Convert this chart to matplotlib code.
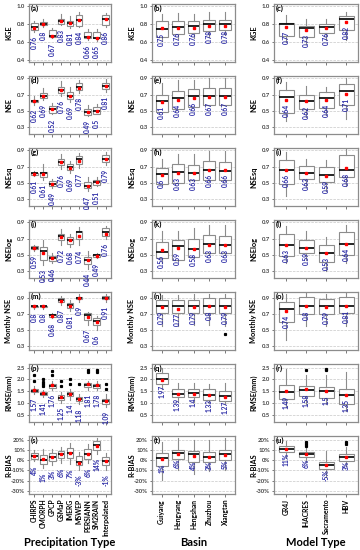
import matplotlib
matplotlib.use('Agg')
import matplotlib.pyplot as plt
from matplotlib.ticker import FuncFormatter

plt.rcParams['font.family'] = ['Lato', 'DejaVu Sans']
plt.rcParams['font.weight'] = 'bold'

precip_types = ['CHIRPS', 'CMORPH', 'GPCP', 'GSMaP', 'IMERG', 'MSWEP', 'PERSIANN', 'SM2RAIN', 'Interpolated']
basins = ['Guiyang', 'Hengyang', 'Hengshan', 'Zhuzhou', 'Xiangtan']
models = ['GR4J', 'IHACRES', 'Sacramento', 'HBV']

# each box: (whisker low, q1, median, q3, whisker high, mean)
kge_precip = [(0.71, 0.73, 0.77, 0.81, 0.83, 0.76), (0.77, 0.79, 0.80, 0.82, 0.86, 0.80),
              (0.64, 0.66, 0.67, 0.73, 0.75, 0.67), (0.79, 0.80, 0.83, 0.86, 0.91, 0.83),
              (0.76, 0.78, 0.81, 0.83, 0.89, 0.81), (0.77, 0.78, 0.84, 0.90, 0.93, 0.84),
              (0.62, 0.64, 0.66, 0.71, 0.74, 0.66), (0.61, 0.64, 0.65, 0.71, 0.74, 0.65),
              (0.77, 0.79, 0.86, 0.90, 0.92, 0.86)]
nse_precip = [(0.58, 0.61, 0.63, 0.64, 0.68, 0.62), (0.64, 0.66, 0.69, 0.72, 0.78, 0.69),
              (0.46, 0.48, 0.52, 0.56, 0.60, 0.52), (0.69, 0.72, 0.76, 0.80, 0.87, 0.76),
              (0.61, 0.65, 0.69, 0.73, 0.80, 0.69), (0.72, 0.76, 0.79, 0.84, 0.88, 0.78),
              (0.44, 0.45, 0.49, 0.53, 0.57, 0.49), (0.46, 0.47, 0.50, 0.55, 0.59, 0.50),
              (0.74, 0.77, 0.81, 0.85, 0.89, 0.81)]
nsesq_precip = [(0.59, 0.60, 0.62, 0.63, 0.65, 0.61), (0.54, 0.57, 0.62, 0.64, 0.73, 0.61),
                (0.44, 0.47, 0.49, 0.52, 0.55, 0.49), (0.67, 0.72, 0.76, 0.80, 0.86, 0.76),
                (0.62, 0.66, 0.70, 0.74, 0.77, 0.69), (0.68, 0.73, 0.80, 0.83, 0.87, 0.77),
                (0.40, 0.44, 0.47, 0.51, 0.57, 0.47), (0.46, 0.48, 0.51, 0.54, 0.58, 0.51),
                (0.72, 0.76, 0.80, 0.84, 0.88, 0.79)]
nselog_precip = [(0.55, 0.57, 0.59, 0.61, 0.63, 0.59), (0.38, 0.44, 0.55, 0.60, 0.68, 0.53),
                 (0.40, 0.43, 0.46, 0.49, 0.53, 0.46), (0.63, 0.69, 0.73, 0.76, 0.82, 0.72),
                 (0.60, 0.64, 0.68, 0.72, 0.76, 0.68), (0.62, 0.70, 0.78, 0.80, 0.84, 0.74),
                 (0.33, 0.39, 0.44, 0.48, 0.55, 0.44), (0.46, 0.48, 0.50, 0.51, 0.53, 0.49),
                 (0.70, 0.73, 0.78, 0.83, 0.86, 0.76)]
mnse_precip = [(0.77, 0.79, 0.80, 0.81, 0.82, 0.80), (0.77, 0.79, 0.80, 0.81, 0.82, 0.80),
               (0.65, 0.67, 0.69, 0.70, 0.71, 0.68), (0.82, 0.85, 0.88, 0.90, 0.93, 0.87),
               (0.74, 0.78, 0.82, 0.84, 0.88, 0.81), (0.86, 0.89, 0.91, 0.92, 0.95, 0.90),
               (0.57, 0.63, 0.69, 0.71, 0.73, 0.67), (0.50, 0.56, 0.62, 0.65, 0.68, 0.60),
               (0.86, 0.89, 0.91, 0.93, 0.95, 0.91)]
rmse_precip = [(1.40, 1.47, 1.53, 1.58, 1.70, 1.57), (1.25, 1.32, 1.38, 1.45, 1.55, 1.41),
               (1.55, 1.65, 1.72, 1.82, 1.95, 1.76), (1.00, 1.12, 1.22, 1.32, 1.45, 1.25),
               (1.15, 1.30, 1.37, 1.45, 1.60, 1.40), (0.95, 1.08, 1.18, 1.25, 1.40, 1.18),
               (1.55, 1.68, 1.76, 1.85, 1.95, 1.81), (1.55, 1.65, 1.72, 1.80, 1.95, 1.78),
               (0.85, 0.98, 1.08, 1.18, 1.40, 1.09)]
rmse_precip_fliers = [[1.95, 2.2], [1.7, 1.8, 1.9, 2.0], [2.2, 2.35], [1.7, 1.95], [1.8, 2.0],
                      [1.8], [2.3, 2.4], [2.3, 2.4], [1.6, 1.8]]
rbias_precip = [(-0.01, 0.01, 0.04, 0.07, 0.10, 0.04), (-0.08, -0.04, 0.00, 0.05, 0.11, 0.01),
                (-0.05, -0.01, 0.03, 0.07, 0.11, 0.03), (-0.03, 0.02, 0.06, 0.09, 0.13, 0.06),
                (-0.04, 0.02, 0.07, 0.12, 0.17, 0.07), (-0.10, -0.05, -0.02, 0.04, 0.08, -0.03),
                (-0.03, 0.01, 0.06, 0.11, 0.16, 0.06), (0.06, 0.10, 0.15, 0.19, 0.22, 0.14),
                (-0.10, -0.05, -0.01, 0.03, 0.07, -0.01)]

kge_basin = [(0.61, 0.66, 0.74, 0.83, 0.91, 0.75), (0.63, 0.69, 0.77, 0.83, 0.92, 0.76),
             (0.64, 0.70, 0.78, 0.83, 0.91, 0.76), (0.66, 0.72, 0.80, 0.84, 0.93, 0.78),
             (0.68, 0.73, 0.80, 0.84, 0.93, 0.78)]
nse_basin = [(0.48, 0.49, 0.63, 0.70, 0.85, 0.61), (0.52, 0.52, 0.66, 0.75, 0.88, 0.64),
             (0.55, 0.55, 0.68, 0.77, 0.88, 0.66), (0.57, 0.57, 0.69, 0.78, 0.91, 0.67),
             (0.57, 0.57, 0.69, 0.78, 0.91, 0.67)]
nsesq_basin = [(0.48, 0.49, 0.61, 0.69, 0.80, 0.60), (0.50, 0.50, 0.64, 0.73, 0.86, 0.63),
               (0.53, 0.54, 0.63, 0.72, 0.86, 0.63), (0.53, 0.54, 0.66, 0.77, 0.89, 0.66),
               (0.53, 0.54, 0.65, 0.76, 0.89, 0.66)]
nselog_basin = [(0.40, 0.46, 0.54, 0.66, 0.79, 0.56), (0.43, 0.44, 0.61, 0.69, 0.80, 0.59),
                (0.47, 0.48, 0.57, 0.70, 0.83, 0.58), (0.50, 0.53, 0.64, 0.75, 0.87, 0.63),
                (0.50, 0.53, 0.63, 0.74, 0.87, 0.63)]
mnse_basin = [(0.55, 0.72, 0.80, 0.88, 0.94, 0.79), (0.55, 0.72, 0.80, 0.88, 0.94, 0.77),
              (0.56, 0.71, 0.80, 0.88, 0.95, 0.79), (0.57, 0.72, 0.81, 0.91, 0.96, 0.80),
              (0.55, 0.71, 0.80, 0.91, 0.96, 0.79)]
mnse_basin_fliers = [[], [], [], [], [0.45]]
rmse_basin = [(1.60, 1.82, 2.00, 2.28, 2.50, 1.97), (1.05, 1.25, 1.40, 1.60, 1.85, 1.39),
              (1.05, 1.25, 1.41, 1.60, 1.85, 1.40), (1.00, 1.15, 1.35, 1.60, 1.80, 1.33),
              (0.95, 1.10, 1.30, 1.50, 1.85, 1.27)]
rbias_basin = [(-0.19, -0.06, 0.02, 0.07, 0.18, 0.01), (-0.10, 0.01, 0.07, 0.10, 0.22, 0.06),
               (-0.14, -0.02, 0.06, 0.09, 0.20, 0.04), (-0.11, -0.02, 0.03, 0.08, 0.20, 0.03),
               (-0.10, 0.00, 0.06, 0.10, 0.22, 0.05)]

kge_model = [(0.60, 0.67, 0.80, 0.81, 0.90, 0.77), (0.58, 0.66, 0.75, 0.78, 0.86, 0.73),
             (0.62, 0.70, 0.77, 0.80, 0.86, 0.76), (0.62, 0.73, 0.85, 0.89, 0.93, 0.82)]
nse_model = [(0.38, 0.48, 0.67, 0.76, 0.86, 0.64), (0.43, 0.53, 0.63, 0.70, 0.81, 0.62),
             (0.45, 0.54, 0.66, 0.73, 0.79, 0.64), (0.40, 0.58, 0.75, 0.83, 0.90, 0.71)]
nsesq_model = [(0.34, 0.49, 0.66, 0.78, 0.88, 0.66), (0.45, 0.55, 0.63, 0.71, 0.80, 0.63),
               (0.40, 0.51, 0.60, 0.70, 0.78, 0.59), (0.47, 0.57, 0.66, 0.85, 0.93, 0.68)]
nselog_model = [(0.40, 0.49, 0.63, 0.76, 0.86, 0.63), (0.44, 0.52, 0.59, 0.68, 0.80, 0.59),
                (0.30, 0.42, 0.53, 0.62, 0.72, 0.53), (0.40, 0.50, 0.64, 0.78, 0.87, 0.64)]
mnse_model = [(0.38, 0.60, 0.76, 0.86, 0.95, 0.74), (0.55, 0.70, 0.81, 0.92, 0.97, 0.80),
              (0.55, 0.70, 0.81, 0.89, 0.95, 0.79), (0.55, 0.72, 0.81, 0.92, 0.97, 0.81)]
rmse_model = [(0.85, 1.18, 1.45, 1.75, 2.45, 1.49), (0.95, 1.30, 1.55, 1.72, 2.20, 1.58),
              (0.95, 1.22, 1.50, 1.68, 2.20, 1.50), (0.65, 0.98, 1.35, 1.60, 2.30, 1.35)]
rmse_model_fliers = [[], [2.4], [2.4, 2.45], []]
rbias_model = [(0.02, 0.08, 0.11, 0.14, 0.19, 0.11), (-0.02, 0.03, 0.06, 0.08, 0.12, 0.06),
               (-0.16, -0.09, -0.05, -0.02, 0.09, -0.05), (-0.06, -0.01, 0.03, 0.06, 0.13, 0.03)]
rbias_model_fliers = [[], [0.14, 0.16, 0.18], [], [0.16, 0.18]]

metric_names = ['KGE', 'NSE', 'NSEsq', 'NSElog', 'Monthly NSE', 'RMSE(mm)', 'R-BIAS']
y_ticks = [[0.4, 0.6, 0.8, 1.0], [0.3, 0.5, 0.7, 0.9], [0.3, 0.5, 0.7, 0.9], [0.3, 0.5, 0.7, 0.9],
           [0.3, 0.5, 0.7, 0.9], [0.5, 1.0, 1.5, 2.0, 2.5], [-0.3, -0.2, -0.1, 0.0, 0.1, 0.2]]
y_lims = [(0.38, 1.02), (0.22, 0.93), (0.22, 0.93), (0.22, 0.93), (0.25, 0.98), (0.2, 2.65), (-0.33, 0.235)]

columns = [
    (precip_types, [kge_precip, nse_precip, nsesq_precip, nselog_precip, mnse_precip, rmse_precip, rbias_precip],
     {5: rmse_precip_fliers}, 'Precipitation Type'),
    (basins, [kge_basin, nse_basin, nsesq_basin, nselog_basin, mnse_basin, rmse_basin, rbias_basin],
     {4: mnse_basin_fliers}, 'Basin'),
    (models, [kge_model, nse_model, nsesq_model, nselog_model, mnse_model, rmse_model, rbias_model],
     {5: rmse_model_fliers, 6: rbias_model_fliers}, 'Model Type'),
]

W, H = 360, 550
fig = plt.figure(figsize=(3.6, 5.5), dpi=100)
col_left = [29, 152, 274]
col_width = [82, 83, 84]
panel_h = 58
letters = 'abcdefghijklmnopqrstu'
label_color = '#2b2ba6'
edge = '#8c8c8c'

for c, (cats, panels, fliers, xtitle) in enumerate(columns):
    n = len(cats)
    for r, boxes in enumerate(panels):
        top = 4 + 72 * r
        ax = fig.add_axes([col_left[c] / W, 1 - (top + panel_h) / H, col_width[c] / W, panel_h / H])
        stats = []
        for i, (lo, q1, med, q3, hi, mean) in enumerate(boxes):
            fl = fliers.get(r, [[]] * n)[i]
            stats.append(dict(whislo=lo, q1=q1, med=med, q3=q3, whishi=hi, mean=mean, fliers=fl))
        ax.bxp(stats, positions=range(1, n + 1), widths=0.75, showmeans=True, showcaps=False,
               patch_artist=True,
               boxprops=dict(facecolor='white', edgecolor=edge, linewidth=0.8),
               whiskerprops=dict(color=edge, linewidth=0.8),
               medianprops=dict(color='black', linewidth=1.2),
               meanprops=dict(marker='s', markerfacecolor='red', markeredgecolor='red', markersize=1.8),
               flierprops=dict(marker='s', markerfacecolor='black', markeredgecolor='black', markersize=1.3))
        for i, (lo, q1, med, q3, hi, mean) in enumerate(boxes):
            if r == 6:
                txt = f'{round(mean * 100):d}%'
            else:
                txt = f'{round(mean, 2):g}'
            anchor = lo if c == 0 else mean
            ax.annotate(txt, xy=(i + 1, anchor), xytext=(0, -3), textcoords='offset points',
                        rotation=90, ha='center', va='top', fontsize=4.8, color=label_color,
                        fontweight='bold')
        ax.set_xlim(0.4, n + 0.6)
        ax.set_ylim(*y_lims[r])
        ax.set_yticks(y_ticks[r])
        if r == 6:
            ax.yaxis.set_major_formatter(FuncFormatter(lambda v, p: f'{round(v * 100):d}%'))
        else:
            ax.yaxis.set_major_formatter(FuncFormatter(lambda v, p: f'{v:.1f}'))
        ax.grid(axis='y', color='#c8c8c8', linestyle='--', linewidth=0.5)
        ax.set_axisbelow(True)
        ax.tick_params(axis='y', labelsize=4.3, length=1.5, width=0.5, pad=1.5, colors='#444444')
        ax.tick_params(axis='x', length=2, width=0.5, colors='#444444')
        for s in ax.spines.values():
            s.set_color(edge)
            s.set_linewidth(0.9)
        ax.set_ylabel(metric_names[r], fontsize=5.3, fontweight='bold')
        ax.yaxis.set_label_coords(-17 / col_width[c], 0.5)
        ax.text(0.02, 0.98, f'({letters[r * 3 + c]})', transform=ax.transAxes, fontsize=5.5,
                fontweight='bold', ha='left', va='top')
        ax.set_xticks(range(1, n + 1))
        if r == 6:
            ax.set_xticklabels(cats, rotation=90, fontsize=4.9, fontweight='bold', color='black')
            ax.tick_params(axis='x', pad=1.5)
            fig.text((col_left[c] + col_width[c] / 2) / W, 1 - 543 / H, xtitle, fontsize=8,
                     fontweight='bold', ha='center', va='center')
        else:
            ax.set_xticklabels([])

fig.savefig('out.png', dpi=100, facecolor='white')
